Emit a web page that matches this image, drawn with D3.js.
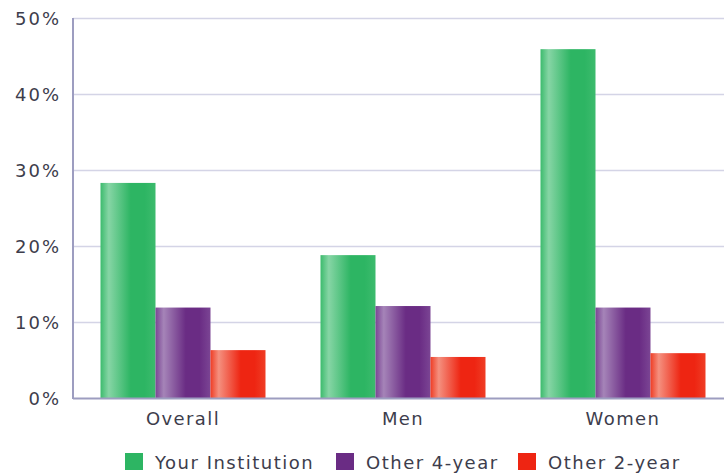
<!DOCTYPE html>
<html>
<head>
<meta charset="utf-8">
<script src="https://cdn.jsdelivr.net/npm/d3@7"></script>
<style>
	body { margin: 0; background: #fff; }
	svg text { font-family: "DejaVu Sans", Verdana, sans-serif; }
</style>
</head>
<body>
<div id="chart"></div>
<script>
var categories = ["Overall", "Men", "Women"];
var seriesNames = ["Your Institution", "Other 4-year", "Other 2-year"];
var yourInstitution = [28.3, 18.8, 45.9];
var other4year = [11.9, 12.1, 11.9];
var other2year = [6.3, 5.4, 5.9];
var yTicks = [0, 10, 20, 30, 40, 50];

var colors = [
	{ base: "#2db563", light: "#86d5a5", mid: "#3cbb6d" },
	{ base: "#6a2c84", light: "#a584b8", mid: "#7b4594" },
	{ base: "#ee2512", light: "#f4907f", mid: "#ef3d25" }
];

var series = [yourInstitution, other4year, other2year];

var width = 724, height = 473,
	margin = { top: 18, left: 73, bottom: 75 },
	textColor = "#3d3d4c";

var svg = d3.select("#chart").append("svg")
	.attr("width", width)
	.attr("height", height)
	.style("overflow", "hidden");

var defs = svg.append("defs");
colors.forEach(function (c, i) {
	var g = defs.append("linearGradient")
		.attr("id", "grad" + i)
		.attr("x1", "0%").attr("x2", "100%")
		.attr("y1", "0%").attr("y2", "0%");
	g.append("stop").attr("offset", "0%").attr("stop-color", c.mid);
	g.append("stop").attr("offset", "15%").attr("stop-color", c.light);
	g.append("stop").attr("offset", "55%").attr("stop-color", c.base);
	g.append("stop").attr("offset", "80%").attr("stop-color", c.base);
	g.append("stop").attr("offset", "100%").attr("stop-color", c.mid);
});

var y = d3.scaleLinear()
	.domain([0, 50])
	.range([height - margin.bottom, margin.top]);

var x0 = d3.scaleBand()
	.domain(categories)
	.range([margin.left, margin.left + 660])
	.paddingInner(0.25)
	.paddingOuter(0.125);

var x1 = d3.scaleBand()
	.domain(d3.range(series.length))
	.range([0, x0.bandwidth()]);

// grid
svg.append("g")
	.selectAll("line")
	.data(yTicks.slice(1))
	.join("line")
	.attr("x1", margin.left)
	.attr("x2", width)
	.attr("y1", function (d) { return y(d) + 0.5; })
	.attr("y2", function (d) { return y(d) + 0.5; })
	.attr("stroke", "#d4d4e6")
	.attr("stroke-width", 1.5);

// bars
var groups = svg.append("g")
	.selectAll("g")
	.data(categories)
	.join("g")
	.attr("transform", function (d) { return "translate(" + x0(d) + ",0)"; });

groups.selectAll("rect")
	.data(function (d, ci) { return series.map(function (s, si) { return { si: si, v: s[ci] }; }); })
	.join("rect")
	.attr("x", function (d) { return x1(d.si); })
	.attr("width", x1.bandwidth())
	.attr("y", function (d) { return y(d.v); })
	.attr("height", function (d) { return y(0) - y(d.v); })
	.attr("fill", function (d) { return "url(#grad" + d.si + ")"; });

// axes lines
svg.append("line")
	.attr("x1", margin.left).attr("x2", margin.left)
	.attr("y1", y(50)).attr("y2", y(0) + 1)
	.attr("stroke", "#9d9dc0").attr("stroke-width", 2);
svg.append("line")
	.attr("x1", margin.left).attr("x2", width)
	.attr("y1", y(0) + 0.5).attr("y2", y(0) + 0.5)
	.attr("stroke", "#9d9dc0").attr("stroke-width", 2);

// y labels
svg.append("g")
	.selectAll("text")
	.data(yTicks)
	.join("text")
	.attr("x", 61)
	.attr("y", function (d) { return y(d) + 7; })
	.attr("text-anchor", "end")
	.attr("font-size", 18)
	.attr("letter-spacing", 2)
	.attr("fill", textColor)
	.text(function (d) { return d + "%"; });

// x labels
svg.append("g")
	.selectAll("text")
	.data(categories)
	.join("text")
	.attr("x", function (d) { return x0(d) + x0.bandwidth() / 2; })
	.attr("y", y(0) + 27)
	.attr("text-anchor", "middle")
	.attr("font-size", 18)
	.attr("letter-spacing", 1.4)
	.attr("fill", textColor)
	.text(function (d) { return d; });

// legend
var legendX = [125, 336, 518];
var legend = svg.append("g")
	.selectAll("g")
	.data(seriesNames)
	.join("g")
	.attr("transform", function (d, i) { return "translate(" + legendX[i] + ",453)"; });
legend.append("rect")
	.attr("width", 18).attr("height", 17)
	.attr("fill", function (d, i) { return colors[i].base; });
legend.append("text")
	.attr("x", 30).attr("y", 16)
	.attr("font-size", 18)
	.attr("letter-spacing", 1.5)
	.attr("fill", textColor)
	.text(function (d) { return d; });
</script>
</body>
</html>
